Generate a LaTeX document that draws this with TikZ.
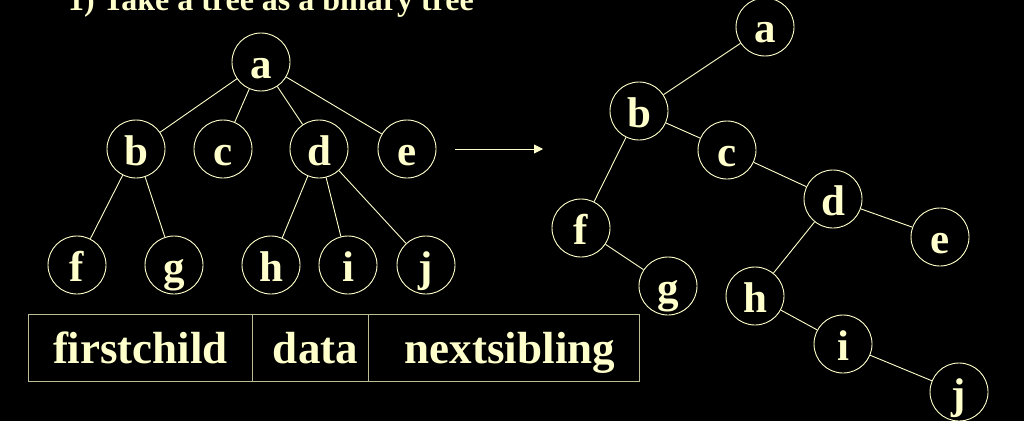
\documentclass[tikz,border=0pt]{standalone}
\usepackage{fontspec}
\setmainfont{Liberation Serif}
\usetikzlibrary{arrows.meta}
\definecolor{cream}{RGB}{255,255,204}
\definecolor{boxline}{RGB}{190,190,150}
\tikzset{
  tnode/.style={circle,draw=cream,line width=0.9pt,minimum size=58pt,inner sep=0pt,
    text=cream,font=\bfseries\fontsize{43}{50}\selectfont,text height=32pt,text depth=0pt},
  edge/.style={draw=cream,line width=0.9pt},
  cell/.style={rectangle,draw=boxline,line width=1pt,minimum height=67pt,inner sep=0pt,anchor=north west},
  celltext/.style={text=cream,font=\bfseries\fontsize{45}{54}\selectfont,text height=31pt,text depth=0pt,inner sep=0pt},
  title/.style={text=cream,font=\bfseries\fontsize{32}{38}\selectfont,inner sep=0pt,anchor=base west}
}
\begin{document}
\begin{tikzpicture}[x=1pt,y=-1pt]
\useasboundingbox (0,0) rectangle (1024,420);
\fill[black,overlay] (-10,-10) rectangle (1034,430);
% title (cut off at the top)
\node[title] (title) at (68,11) {1) Take a tree as a binary tree};
% left tree
\node[tnode] (la) at (261,62) {a};
\node[tnode] (lb) at (136,149) {b};
\node[tnode] (lc) at (223,149) {c};
\node[tnode] (ld) at (319,149) {d};
\node[tnode] (le) at (407,149) {e};
\node[tnode] (lf) at (77,265) {f};
\node[tnode] (lg) at (174,265) {g};
\node[tnode] (lh) at (271,265) {h};
\node[tnode] (li) at (348,265) {i};
\node[tnode] (lj) at (426,265) {j};
\foreach \u/\v in {la/lb,la/lc,la/ld,la/le,lb/lf,lb/lg,ld/lh,ld/li,ld/lj}
  \draw[edge] (\u) -- (\v);
% arrow
\coordinate (arS) at (455,149);
\coordinate (arE) at (543,149);
\draw[edge,-{Triangle[length=9pt,width=9pt]}] (arS) -- (arE);
% right tree (binary)
\node[tnode] (ra) at (765,27) {a};
\node[tnode] (rb) at (639,111) {b};
\node[tnode] (rc) at (727,150) {c};
\node[tnode] (rd) at (833,199) {d};
\node[tnode] (re) at (940,237) {e};
\node[tnode] (rf) at (581,228) {f};
\node[tnode] (rg) at (668,286) {g};
\node[tnode] (rh) at (755,296) {h};
\node[tnode] (ri) at (843,344) {i};
\node[tnode] (rj) at (959,392) {j};
\foreach \u/\v in {ra/rb,rb/rf,rb/rc,rf/rg,rc/rd,rd/re,rd/rh,rh/ri,ri/rj}
  \draw[edge] (\u) -- (\v);
% node structure table
\node[cell,minimum width=224pt] (c1) at (28,314) {};
\node[cell,minimum width=116pt] (c2) at (252,314) {};
\node[cell,minimum width=271pt] (c3) at (368,314) {};
\node[celltext] (t1) at (c1.center) {firstchild};
\node[celltext,xshift=5pt] (t2) at (c2.center) {data};
\node[celltext,xshift=6pt] (t3) at (c3.center) {nextsibling};
\end{tikzpicture}
\end{document}
